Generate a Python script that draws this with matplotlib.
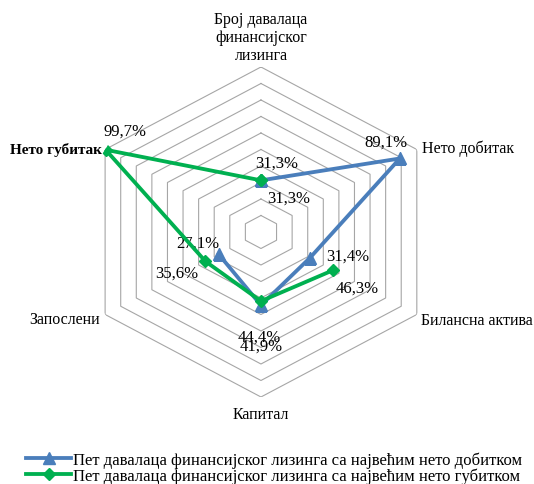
import numpy as np
import matplotlib
matplotlib.use("Agg")
import matplotlib.pyplot as plt

plt.rcParams['font.family'] = ['Liberation Serif', 'DejaVu Serif']

# Categories, clockwise from the top
categories = ["Број давалаца\nфинансијског\nлизинга", "Нето добитак", "Билансна актива",
              "Капитал", "Запослени", "Нето губитак"]
# Values in %, nan = no value (gap in the line)
profit_values = [31.3, 89.1, 31.4, 44.4, 27.1, np.nan]
loss_values = [31.3, np.nan, 46.3, 41.9, 35.6, 99.7]
series_names = ["Пет давалаца финансијског лизинга са највећим нето добитком",
                "Пет давалаца финансијског лизинга са највећим нето губитком"]
ring_levels = list(range(10, 101, 10))

blue = "#4a7ebb"
green = "#00b050"

fig = plt.figure(figsize=(5.34, 4.85), dpi=100)
ax = fig.add_axes([0.1517, 0.1794, 0.674, 0.6804], projection='polar')
ax.set_aspect('auto')
ax.set_theta_zero_location('N')
ax.set_theta_direction(-1)
ax.set_ylim(0, 100)
ax.grid(False)
ax.set_xticks([])
ax.set_yticks([])
ax.spines['polar'].set_visible(False)
ax.patch.set_alpha(0)

angles = np.deg2rad(np.arange(len(categories)) * 60.0)
closed = np.append(angles, angles[0])

# hexagonal grid rings
for lvl in ring_levels:
    ax.plot(closed, [lvl] * len(closed), color='#a6a6a6', lw=0.8, zorder=1)

# series
ax.plot(closed, profit_values + [profit_values[0]], color=blue, lw=2.75,
        marker='^', markersize=9, zorder=3, label=series_names[0])
ax.plot(closed, loss_values + [loss_values[0]], color=green, lw=2.75,
        marker='D', markersize=6, zorder=4, label=series_names[1])

# data labels (offsets in pixels, picked by eye)
profit_offsets = [(28, -17), (-14, 17), (38, 2), (-2, -31), (-21, 12), None]
loss_offsets = [(16, 18), None, (24, -17), (0, -45), (-29, -11), (19, 19)]
for vals, offs in [(profit_values, profit_offsets), (loss_values, loss_offsets)]:
    for a, v, off in zip(angles, vals, offs):
        if off is None or np.isnan(v):
            continue
        ax.annotate(f"{v:.1f}%".replace('.', ','), xy=(a, v), xytext=off,
                    textcoords='offset pixels', ha='center', va='center', fontsize=12)

# category labels around the outer ring
cat_pos = [((0, 4), 'center', 'bottom'), ((5, 2), 'left', 'center'), ((4, -6), 'left', 'center'),
           ((0, -17), 'center', 'center'), ((-5, -5), 'right', 'center'), ((-3, 0), 'right', 'center')]
for i, (name, (off, ha, va)) in enumerate(zip(categories, cat_pos)):
    bold = name == "Нето губитак"
    ax.annotate(name, xy=(angles[i], 100), xytext=off, textcoords='offset pixels',
                ha=ha, va=va, fontsize=11 if bold else 11.5, linespacing=1.15,
                fontweight='bold' if bold else 'normal')

fig.legend(loc='center', bbox_to_anchor=(0.513, 0.034), frameon=False, fontsize=12,
           handlelength=2.7, handletextpad=0.1, labelspacing=0.0, borderpad=0)

fig.savefig("out.png", dpi=100)
